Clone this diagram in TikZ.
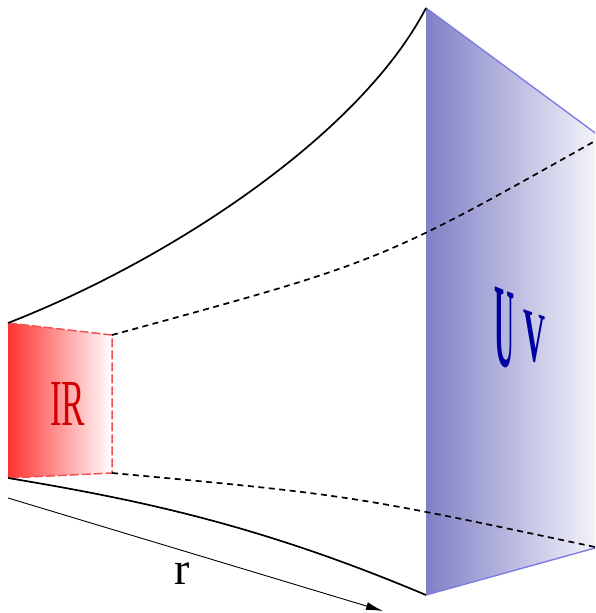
\documentclass[tikz,border=0pt]{standalone}
\usepackage{fontspec}
\setmainfont{Liberation Serif}
\usetikzlibrary{arrows.meta}
\definecolor{irRed}{RGB}{255,50,50}
\definecolor{irText}{RGB}{210,0,0}
\definecolor{irEdge}{RGB}{240,80,80}
\definecolor{uvL}{RGB}{128,128,198}
\definecolor{uvR}{RGB}{246,246,252}
\definecolor{uvEdge}{RGB}{125,125,225}
\definecolor{uvText}{RGB}{0,0,160}
\tikzset{
  solidcurve/.style={line width=1.7pt},
  dashcurve/.style={line width=1.7pt, dash pattern=on 6pt off 4.5pt},
  irborder/.style={irEdge, line width=1.5pt, dash pattern=on 9pt off 3pt},
  uvborder/.style={uvEdge, line width=1.4pt},
  rarrow/.style={line width=0.9pt, -{Latex[length=17pt,width=8pt]}},
  lbl/.style={inner sep=0pt},
}
\begin{document}
\begin{tikzpicture}[x=1pt,y=-1pt]
\clip (0,0) rectangle (595,613);
% IR face
\coordinate (irTL) at (8,323);
\coordinate (irTR) at (112,335);
\coordinate (irBR) at (112,473);
\coordinate (irBL) at (8,478);
% UV face
\coordinate (uvTL) at (426,8);
\coordinate (uvTR) at (600,136.5);
\coordinate (uvBR) at (600,546.6);
\coordinate (uvBL) at (426,595);
\coordinate (uvRt) at (595,141);
\coordinate (uvRb) at (595,547);
% arrow ends
\coordinate (rs) at (8,498);
\coordinate (re) at (383,611);

\shade[left color=uvL, right color=uvR] (uvTL) -- (uvTR) -- (uvBR) -- (uvBL) -- cycle;
\draw[uvborder] (uvTL) -- (uvTR) (uvBL) -- (uvBR);

\shade[left color=irRed, right color=white] (irTL) -- (irTR) -- (irBR) -- (irBL) -- cycle;
\draw[irborder] (irTL) -- (irTR) -- (irBR) -- (irBL);

\draw[solidcurve] (irTL) .. controls (170,260) and (360,135) .. (uvTL);
\draw[solidcurve] (irBL) .. controls (140,500) and (260,525) .. (uvBL);
\draw[dashcurve] (irTR) .. controls (380,262) .. (uvRt);
\draw[dashcurve] (irBR) .. controls (350,495) .. (uvRb);

\draw[rarrow] (rs) -- (re);

\node[lbl, irText] (irlabel) at (67.5,403.5) {\resizebox{35pt}{43pt}{IR}};
\node[lbl, uvText, yslant=-0.4] (uvU) at (504.5,329) {\resizebox{20pt}{76pt}{\bfseries U}};
\node[lbl, uvText, yslant=-0.35] (uvV) at (534,338) {\resizebox{22pt}{48pt}{\bfseries V}};
\node[lbl, anchor=base west] (rlabel) at (174,584) {\fontsize{46}{46}\selectfont r};
\end{tikzpicture}
\end{document}
